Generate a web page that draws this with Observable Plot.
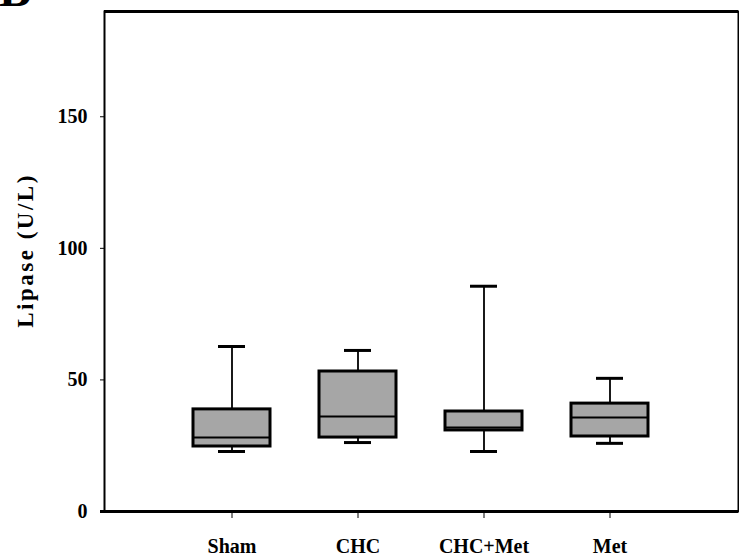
<!DOCTYPE html>
<html>
<head>
<meta charset="utf-8">
<script src="https://cdn.jsdelivr.net/npm/d3@7"></script>
<script src="https://cdn.jsdelivr.net/npm/@observablehq/plot@0.6"></script>
<style>
  html, body { margin: 0; padding: 0; background: white; }
  #wrap { position: relative; width: 739px; height: 559px; overflow: hidden; }
  #panel { position: absolute; left: -1px; top: -34px; font-family: "Liberation Serif", serif; font-weight: bold; font-size: 48px; line-height: 1; color: black; }
</style>
</head>
<body>
<div id="wrap"><div id="panel">B</div></div>
<script>
const categories = ["Sham", "CHC", "CHC+Met", "Met"];
const whiskerLow = [22.8, 26.2, 22.8, 25.9];
const q1 = [24.7, 28.1, 30.8, 28.5];
const median = [28.1, 36.1, 31.9, 35.7];
const q3 = [38.8, 53.2, 38.0, 41.0];
const whiskerHigh = [62.7, 61.2, 85.6, 50.6];
const yTicks = [0, 50, 100, 150];
const yLabel = "Lipase (U/L)";

const rows = categories.map((c, i) => ({
  group: c, lo: whiskerLow[i], q1: q1[i], med: median[i], q3: q3[i], hi: whiskerHigh[i]
}));

const chart = Plot.plot({
  width: 739,
  height: 559,
  marginLeft: 104,
  marginRight: 1,
  marginTop: 11,
  marginBottom: 48,
  style: { fontFamily: "'Liberation Serif', 'Times New Roman', serif", fontSize: "20px", fontWeight: "bold", color: "black", background: "white", overflow: "visible" },
  x: { type: "band", domain: categories, paddingInner: 0.386, paddingOuter: 0.693, label: null, tickSize: 7, tickPadding: 20 },
  y: { domain: [0, 190], ticks: yTicks, tickSize: 4, tickPadding: 13, label: null },
  marks: [
    Plot.frame({ stroke: "black", strokeWidth: 2 }),
    Plot.ruleX(rows, { x: "group", y1: "lo", y2: "q1", stroke: "black", strokeWidth: 1.8 }),
    Plot.ruleX(rows, { x: "group", y1: "q3", y2: "hi", stroke: "black", strokeWidth: 1.8 }),
    Plot.tickY(rows, { x: "group", y: "lo", stroke: "black", strokeWidth: 3, insetLeft: 25, insetRight: 25 }),
    Plot.tickY(rows, { x: "group", y: "hi", stroke: "black", strokeWidth: 3, insetLeft: 25, insetRight: 25 }),
    Plot.barY(rows, { x: "group", y1: "q1", y2: "q3", fill: "#a6a6a6", stroke: "black", strokeWidth: 3 }),
    Plot.tickY(rows, { x: "group", y: "med", stroke: "black", strokeWidth: 2 }),
    Plot.ruleY([0], { stroke: "black", strokeWidth: 3, insetLeft: -4 }),
    Plot.ruleY([190], { stroke: "black", strokeWidth: 3 }),
    Plot.text([yLabel], { text: d => d, frameAnchor: "left", textAnchor: "middle", rotate: -90, dx: -79, dy: -11, fontSize: 23, fontWeight: "bold" })
  ]
});
d3.select(chart).selectAll("text").filter(function () { return this.textContent === yLabel; })
  .style("letter-spacing", "2.5px");
document.getElementById("wrap").appendChild(chart);
</script>
</body>
</html>
